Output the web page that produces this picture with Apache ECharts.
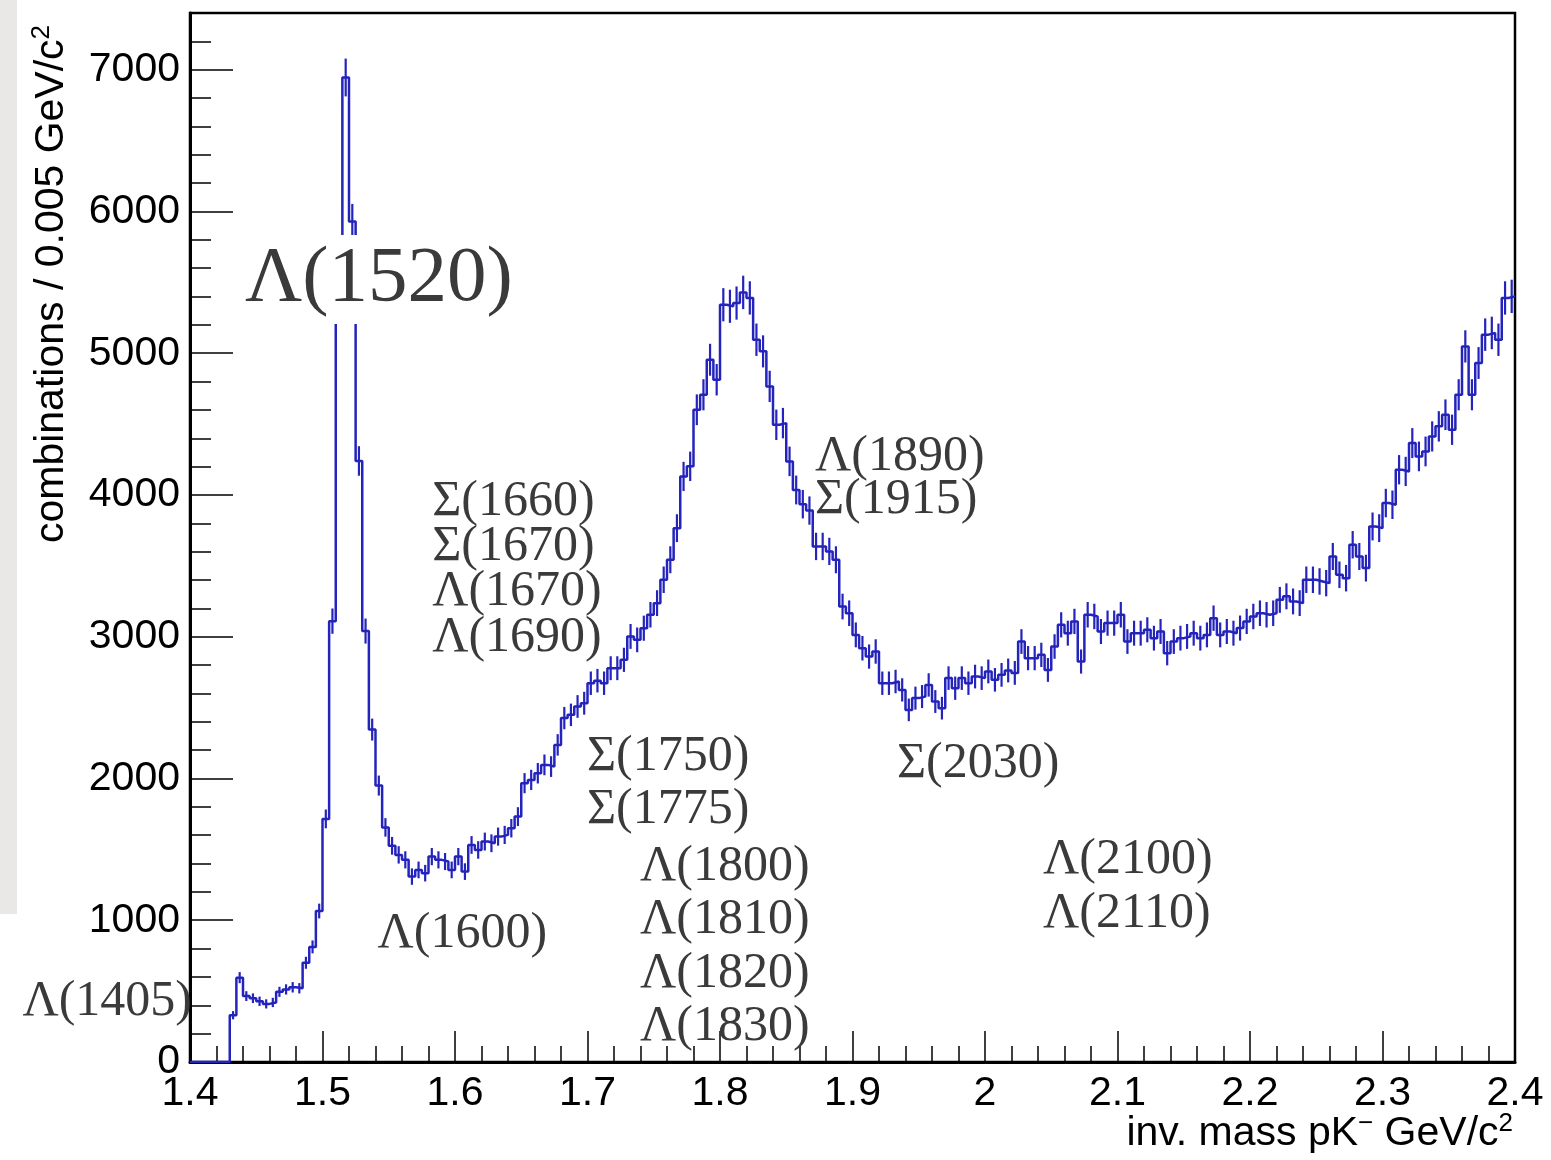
<!DOCTYPE html>
<html>
<head>
<meta charset="utf-8">
<title>pK⁻ invariant mass</title>
<script src="https://cdn.jsdelivr.net/npm/echarts@6/dist/echarts.min.js"></script>
<style>
  html, body { margin: 0; padding: 0; background: #ffffff; }
  #chart { width: 1551px; height: 1160px; }
</style>
</head>
<body>
<div id="chart"></div>
<script>
// Histogram binning (GeV/c^2)
const binStart = 1.4;
const binWidth = 0.005;

// Combinations per 0.005 GeV/c^2 bin, from 1.400 to 2.400
const counts = [
  0, 0, 0, 0, 0, 0, 330, 595, 465, 450,
  428, 410, 420, 495, 512, 527, 520, 700, 812, 1065,
  1715, 3110, 5500, 6945, 5930, 4240, 3040, 2345, 1950, 1655,
  1525, 1461, 1426, 1308, 1355, 1332, 1449, 1426, 1414, 1355,
  1449, 1343, 1531, 1496, 1555, 1543, 1590, 1602, 1649, 1731,
  1967, 1990, 2037, 2096, 2084, 2237, 2426, 2449, 2508, 2531,
  2672, 2690, 2672, 2778, 2778, 2837, 3002, 2978, 3060, 3155,
  3237, 3402, 3543, 3766, 4131, 4202, 4601, 4707, 4954, 4813,
  5342, 5331, 5354, 5429, 5390, 5095, 5013, 4766, 4495, 4507,
  4237, 4035, 3935, 3890, 3637, 3637, 3602, 3543, 3213, 3166,
  3013, 2919, 2860, 2896, 2672, 2672, 2684, 2625, 2484, 2567,
  2578, 2660, 2543, 2496, 2708, 2637, 2708, 2672, 2719, 2708,
  2755, 2696, 2731, 2762, 2745, 2966, 2849, 2849, 2872, 2766,
  2931, 3084, 3025, 3108, 2825, 3155, 3143, 3037, 3096, 3096,
  3155, 2966, 3025, 3025, 3049, 2990, 3037, 2884, 2966, 2990,
  3002, 3025, 2990, 3013, 3131, 3013, 3037, 3025, 3061, 3108,
  3143, 3166, 3155, 3166, 3260, 3285, 3249, 3237, 3402, 3402,
  3390, 3378, 3566, 3437, 3413, 3649, 3566, 3484, 3778, 3766,
  3943, 3931, 4178, 4166, 4366, 4272, 4307, 4413, 4484, 4566,
  4460, 4707, 5048, 4707, 4931, 5131, 5143, 5095, 5390, 5401
];

// Axis ticks
const xTicks = [1.4, 1.5, 1.6, 1.7, 1.8, 1.9, 2.0, 2.1, 2.2, 2.3, 2.4];
const yTicks = [0, 1000, 2000, 3000, 4000, 5000, 6000, 7000];

// Resonance names, anchored at (mass, combinations)
const resonanceNames = ['Λ(1405)', 'Λ(1520)', 'Σ(1660)', 'Σ(1670)', 'Λ(1670)', 'Λ(1690)',
  'Λ(1600)', 'Σ(1750)', 'Σ(1775)', 'Λ(1800)', 'Λ(1810)', 'Λ(1820)', 'Λ(1830)',
  'Λ(1890)', 'Σ(1915)', 'Σ(2030)', 'Λ(2100)', 'Λ(2110)'];
const resonanceMass = [1.2735, 1.4400, 1.5828, 1.5828, 1.5828, 1.5828,
  1.5415, 1.6996, 1.6996, 1.7396, 1.7396, 1.7396, 1.7396,
  1.8717, 1.8717, 1.9336, 2.0438, 2.0438];
const resonanceCount = [425, 5520, 3952, 3634, 3317, 2992,
  903, 2152, 1778, 1376, 1002, 621, 247,
  4269, 3966, 2103, 1426, 1045];

const lineColor = '#2424bc';
const sansFont = '"Liberation Sans", Arial, Helvetica, sans-serif';
const serifFont = '"Liberation Serif", "Times New Roman", Times, serif';

// Step outline: each bin held flat from its lower to its upper edge
const stepData = counts.map((c, i) => [binStart + i * binWidth, c]);
stepData.push([binStart + counts.length * binWidth, counts[counts.length - 1]]);

// Per-bin statistical uncertainty drawn at bin centres
const errData = counts.map((c, i) => [binStart + (i + 0.5) * binWidth, c, 1.6 * Math.sqrt(c)]);

const chart = echarts.init(document.getElementById('chart'), null, { renderer: 'canvas' });

chart.setOption({
  animation: false,
  backgroundColor: '#ffffff',
  grid: {
    left: 190, right: 36, top: 13, bottom: 98,
    show: true, borderColor: '#000', borderWidth: 2.5, backgroundColor: 'transparent'
  },
  xAxis: {
    type: 'value',
    min: xTicks[0], max: xTicks[xTicks.length - 1], interval: 0.1,
    axisLine: { show: true, onZero: false, lineStyle: { color: '#000', width: 3 } },
    axisTick: { show: true, inside: true, length: 31, lineStyle: { color: '#000', width: 1.5 } },
    minorTick: { show: true, splitNumber: 5, length: 16, lineStyle: { color: '#000', width: 1.5 } },
    splitLine: { show: false },
    axisLabel: {
      show: true, margin: 11, color: '#000', fontSize: 41, fontFamily: sansFont,
      showMinLabel: true, showMaxLabel: true,
      formatter: v => String(Math.round(v * 10) / 10)
    }
  },
  yAxis: {
    type: 'value',
    min: 0, max: 7400, interval: 1000,
    axisLine: { show: true, onZero: false, lineStyle: { color: '#000', width: 3 } },
    axisTick: { show: true, inside: true, length: 43, lineStyle: { color: '#000', width: 1.5 } },
    minorTick: { show: true, splitNumber: 5, length: 21, lineStyle: { color: '#000', width: 1.5 } },
    splitLine: { show: false },
    axisLabel: {
      show: true, margin: 10, color: '#000', fontSize: 41, fontFamily: sansFont,
      showMaxLabel: false,
      formatter: v => (yTicks.indexOf(v) >= 0 ? String(v) : '')
    }
  },
  series: [
    {
      name: 'pK- combinations',
      type: 'line',
      step: 'end',
      data: stepData,
      symbol: 'none',
      clip: true,
      lineStyle: { color: lineColor, width: 2.5 },
      z: 3
    },
    {
      name: 'uncertainty',
      type: 'custom',
      data: errData,
      clip: true,
      renderItem: function (params, api) {
        const x = api.value(0), v = api.value(1), e = api.value(2);
        if (!(v > 0)) return null;
        const lo = api.coord([x, v - e]);
        const hi = api.coord([x, v + e]);
        return {
          type: 'line',
          shape: { x1: lo[0], y1: lo[1], x2: hi[0], y2: hi[1] },
          style: { stroke: lineColor, lineWidth: 2.2 }
        };
      },
      z: 4
    }
  ]
});

// Titles and resonance names
const sup = { fontSize: 26, fontFamily: sansFont, color: '#000', verticalAlign: 'top', lineHeight: 46 };
const base = { fontSize: 41, fontFamily: sansFont, color: '#000', lineHeight: 46 };

const graphics = [
  // light panel strip at the page's left edge
  { type: 'rect', shape: { x: 0, y: 0, width: 17, height: 914 }, style: { fill: '#eae8e6' }, z: 0, silent: true },
  {
    type: 'text', x: 52, y: 284, rotation: Math.PI / 2, z: 10,
    style: {
      text: '{b|combinations / 0.005 GeV/c}{s|2}',
      align: 'center', verticalAlign: 'middle',
      rich: { b: base, s: sup }
    }
  },
  {
    type: 'text', x: 1513, y: 1134, z: 10,
    style: {
      text: '{b|inv. mass pK}{s|−}{b| GeV/c}{s|2}',
      align: 'right', verticalAlign: 'middle',
      rich: { b: base, s: sup }
    }
  }
];

resonanceNames.forEach((name, i) => {
  const p = chart.convertToPixel({ gridIndex: 0 }, [resonanceMass[i], resonanceCount[i]]);
  const big = name === 'Λ(1520)';
  graphics.push({
    type: 'text', x: p[0], y: p[1], z: 20,
    style: {
      text: name,
      fill: '#3a3a3a',
      font: (big ? '79px ' : '50px ') + serifFont,
      align: 'left', verticalAlign: 'middle',
      backgroundColor: big ? '#ffffff' : null,
      padding: big ? [6, 2, 4, 2] : 0
    }
  });
});

chart.setOption({ graphic: graphics });
</script>
</body>
</html>
